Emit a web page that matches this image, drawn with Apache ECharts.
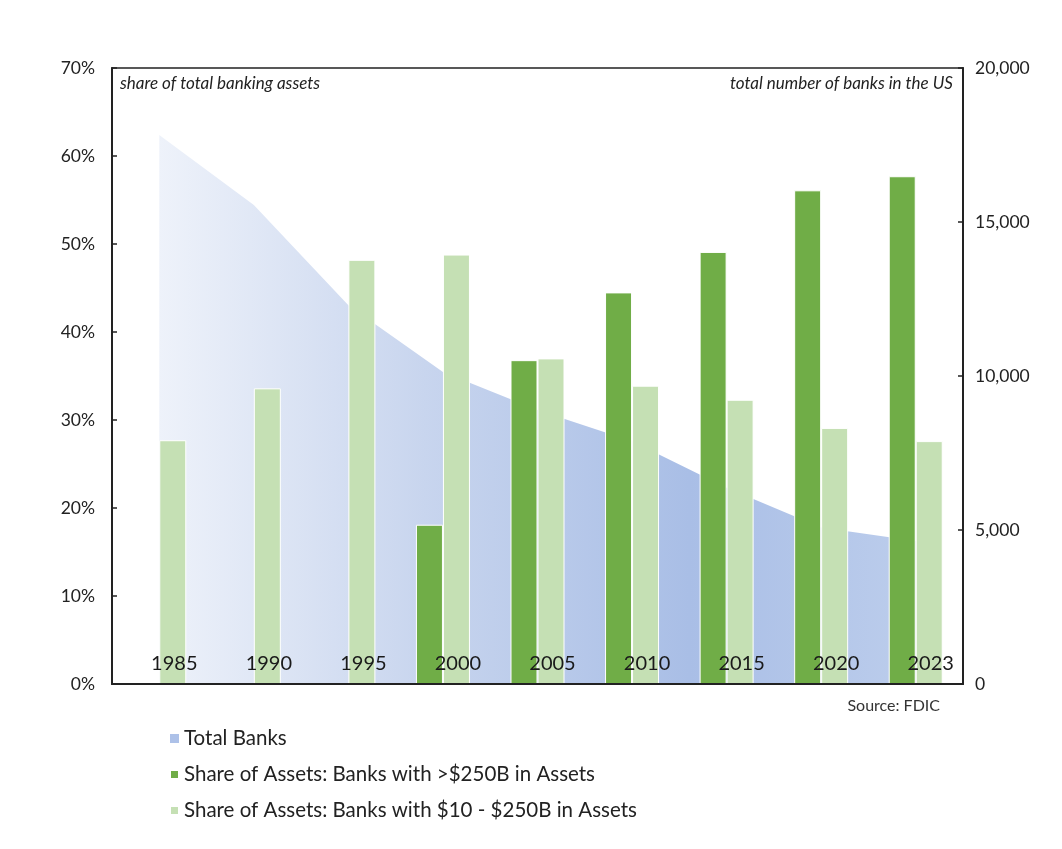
<!DOCTYPE html>
<html>
<head>
<meta charset="utf-8">
<script src="https://cdn.jsdelivr.net/npm/echarts@6/dist/echarts.min.js"></script>
<style>
  html, body { margin: 0; padding: 0; background: #fff; }
  #chart { width: 1062px; height: 849px; }
</style>
</head>
<body>
<div id="chart"></div>
<script>
var years = ['1985', '1990', '1995', '2000', '2005', '2010', '2015', '2020', '2023'];
// total number of banks (right axis)
var totalBanks = [17825, 15550, 12300, 10130, 8900, 7880, 6370, 5080, 4640];
// share of assets, percent (left axis)
var shareLarge = [null, null, null, 18.1, 36.8, 44.5, 49.1, 56.1, 57.7];
var shareMid = [27.7, 33.6, 48.2, 48.8, 37.0, 33.9, 32.3, 29.1, 27.6];

var font = 'Lato, "Open Sans", sans-serif';
var chart = echarts.init(document.getElementById('chart'));

chart.setOption({
    backgroundColor: '#fff',
    textStyle: { fontFamily: font },
    animation: false,
    grid: {
        left: 112, right: 99, top: 68, bottom: 165,
        show: true, borderColor: '#222', borderWidth: 1.5, backgroundColor: 'transparent'
    },
    legend: {
        orient: 'vertical',
        left: 164, top: 723,
        itemWidth: 9, itemHeight: 9, itemGap: 15,
        icon: 'rect',
        textStyle: { fontSize: 20.5, color: '#222', fontFamily: font },
        data: [
            { name: 'Total Banks', itemStyle: { color: '#adc1e8' } },
            'Share of Assets: Banks with >$250B in Assets',
            'Share of Assets: Banks with $10 - $250B in Assets'
        ]
    },
    graphic: [
        { type: 'text', left: 120, top: 75,
          style: { text: 'share of total banking assets', font: 'italic 17px ' + font, fill: '#222' } },
        { type: 'text', right: 109, top: 75,
          style: { text: 'total number of banks in the US', font: 'italic 17px ' + font, fill: '#222' } },
        { type: 'text', right: 122, top: 698,
          style: { text: 'Source: FDIC', font: '16px ' + font, fill: '#333' } }
    ],
    xAxis: {
        type: 'category',
        data: years,
        boundaryGap: true,
        z: 10,
        axisLine: { lineStyle: { color: '#222', width: 2 } },
        axisTick: { inside: true, length: 5, lineStyle: { color: '#222', width: 1.5 } },
        axisLabel: {
            inside: true, margin: 10, fontSize: 20, color: '#1a1a1a',
            padding: [0, 0, 0, 30]
        },
        splitLine: { show: false }
    },
    yAxis: [
        {
            type: 'value', min: 0, max: 70, interval: 10,
            axisLine: { show: true, lineStyle: { color: '#222', width: 2 } },
            axisTick: { show: true, inside: true, length: 5, lineStyle: { color: '#222', width: 1.5 } },
            axisLabel: { formatter: '{value}%', fontSize: 17.5, color: '#222', margin: 17 },
            splitLine: { show: false }
        },
        {
            type: 'value', min: 0, max: 20000, interval: 5000,
            position: 'right',
            axisLine: { show: true, lineStyle: { color: '#222', width: 2 } },
            axisTick: { show: true, inside: true, length: 5, lineStyle: { color: '#222', width: 1.5 } },
            axisLabel: {
                fontSize: 17.5, color: '#222', margin: 12,
                formatter: function (v) { return v.toLocaleString('en-US'); }
            },
            splitLine: { show: false }
        }
    ],
    series: [
        {
            name: 'Total Banks',
            type: 'line',
            yAxisIndex: 1,
            data: totalBanks,
            symbol: 'none',
            z: 1,
            itemStyle: { color: '#adc1e8' },
            lineStyle: { width: 0 },
            areaStyle: {
                opacity: 1,
                color: new echarts.graphic.LinearGradient(0, 0, 1, 0, [
                    { offset: 0, color: '#eef2fa' },
                    { offset: 0.35, color: '#c8d5ee' },
                    { offset: 0.7, color: '#a9bee6' },
                    { offset: 1, color: '#bccdec' }
                ])
            }
        },
        {
            name: 'Share of Assets: Banks with >$250B in Assets',
            type: 'bar',
            data: shareLarge,
            barWidth: 27,
            barGap: '0%',
            z: 3,
            itemStyle: { color: '#70ad47', borderColor: '#fff', borderWidth: 1 }
        },
        {
            name: 'Share of Assets: Banks with $10 - $250B in Assets',
            type: 'bar',
            data: shareMid,
            barWidth: 27,
            barGap: '0%',
            z: 3,
            itemStyle: { color: '#c5e0b4', borderColor: '#fff', borderWidth: 1 }
        }
    ]
});
</script>
</body>
</html>
